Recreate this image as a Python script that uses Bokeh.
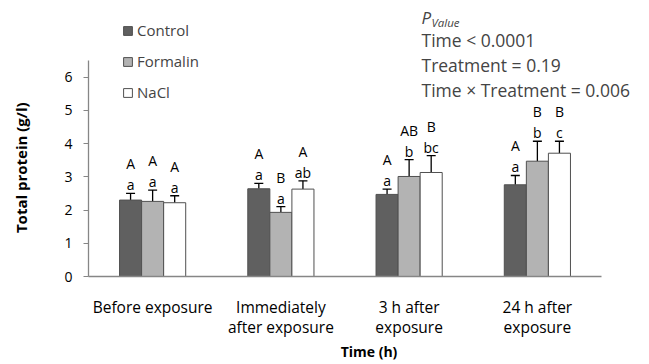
from bokeh.plotting import figure
from bokeh.models import (ColumnDataSource, Range1d, Whisker, TeeHead, FixedTicker,
                          Legend, LegendItem, Label)
from bokeh.core.properties import value
from bokeh.embed import file_html
from bokeh.resources import INLINE

# ---- data ----
categories = ["Before exposure", "Immediately\nafter exposure", "3 h after\nexposure", "24 h after\nexposure"]
series_names = ["Control", "Formalin", "NaCl"]
control = [2.30, 2.64, 2.47, 2.76]
control_err = [0.20, 0.16, 0.16, 0.28]
formalin = [2.26, 1.93, 3.01, 3.47]
formalin_err = [0.34, 0.17, 0.51, 0.60]
nacl = [2.22, 2.63, 3.13, 3.71]
nacl_err = [0.21, 0.25, 0.51, 0.36]
control_lower = ["a", "a", "a", "a"]
control_upper = ["A", "A", "A", "A"]
formalin_lower = ["a", "a", "b", "b"]
formalin_upper = ["A", "B", "AB", "B"]
nacl_lower = ["a", "ab", "bc", "c"]
nacl_upper = ["A", "A", "B", "B"]
y_ticks = [0, 1, 2, 3, 4, 5, 6]
y_title = "Total protein (g/l)"
x_title = "Time (h)"
pvalue_lines = ["Time < 0.0001", "Treatment = 0.19", "Time \u00d7 Treatment = 0.006"]

FONT = "Open Sans"
W, H = 649, 364
ML, MB = 88, 88
AX_W = 513          # pixel width of the category axis
AX_H = 216          # pixel height of the 0..6.5 value axis
Y_AXIS_TOP = 6.5
frame_w = W - ML
frame_h = H - MB
n_cat = len(categories)
x_end = n_cat * frame_w / AX_W
y_end = Y_AXIS_TOP * frame_h / AX_H
ppu = AX_H / Y_AXIS_TOP

p = figure(width=W, height=H, x_range=Range1d(0, x_end), y_range=Range1d(0, y_end),
           output_backend="svg", toolbar_location=None,
           min_border_left=ML, min_border_right=0, min_border_top=0, min_border_bottom=MB)
p.outline_line_color = None
p.grid.grid_line_color = None
p.background_fill_color = "white"

centers = [i + 0.5 for i in range(n_cat)]
bw = 0.172
series = [
    (control, control_err, control_lower, control_upper, "#606060", -bw),
    (formalin, formalin_err, formalin_lower, formalin_upper, "#b3b3b3", 0.0),
    (nacl, nacl_err, nacl_lower, nacl_upper, "#ffffff", bw),
]
renderers = []
for vals, errs, low, up, color, off in series:
    tops = [v + e for v, e in zip(vals, errs)]
    src = ColumnDataSource(dict(x=[c + off for c in centers], val=vals, top=tops,
                                ylow=[t + 8.5 / ppu for t in tops],
                                yup=[t + 29.5 / ppu for t in tops],
                                low=low, up=up))
    r = p.vbar(x="x", top="val", width=bw, source=src,
               fill_color=color, line_color="#505050", line_width=1)
    renderers.append(r)
    w = Whisker(base="x", lower="val", upper="top", source=src,
                line_color="black", line_width=1.3,
                upper_head=TeeHead(size=9, line_color="black", line_width=1.3),
                lower_head=None)
    p.add_layout(w)
    for col, yc in (("low", "ylow"), ("up", "yup")):
        p.text(x="x", y=yc, text=col, source=src,
               text_font=value(FONT), text_font_size="14px", text_align="center",
               text_baseline="alphabetic", text_color="black")

# axes
axis_col = "#868686"
p.yaxis.ticker = FixedTicker(ticks=y_ticks)
p.yaxis.bounds = (0, Y_AXIS_TOP)
p.yaxis.axis_line_color = axis_col
p.yaxis.axis_line_width = 1.3
p.yaxis.major_tick_line_color = axis_col
p.yaxis.major_tick_in = 0
p.yaxis.major_tick_out = 5
p.yaxis.minor_tick_line_color = None
p.yaxis.major_label_text_font = FONT
p.yaxis.major_label_text_font_size = "14px"
p.yaxis.major_label_text_color = "black"
p.yaxis.major_label_standoff = 11
# the title is centred on the whole frame; trailing no-break spaces move the
# visible words down so that they are centred on the drawn 0..6.5 axis
p.yaxis.axis_label = y_title + "\u00a0" * 15
p.yaxis.axis_label_text_font = FONT
p.yaxis.axis_label_text_font_style = "bold"
p.yaxis.axis_label_text_font_size = "15px"
p.yaxis.axis_label_text_color = "black"
p.yaxis.axis_label_standoff = 30

p.xaxis.ticker = FixedTicker(ticks=centers)
p.xaxis.major_label_overrides = {c: lab for c, lab in zip(centers, categories)}
p.xaxis.bounds = (0, n_cat)
p.xaxis.axis_line_color = axis_col
p.xaxis.axis_line_width = 1.3
p.xaxis.major_tick_line_color = None
p.xaxis.minor_tick_line_color = None
p.xaxis.major_label_text_font = FONT
p.xaxis.major_label_text_font_size = "15.5px"
p.xaxis.major_label_text_color = "black"
p.xaxis.major_label_text_line_height = 0.92
p.xaxis.major_label_standoff = 13
p.xaxis.axis_label = x_title
p.xaxis.axis_label_text_font = FONT
p.xaxis.axis_label_text_font_style = "bold"
p.xaxis.axis_label_text_font_size = "14px"
p.xaxis.axis_label_text_color = "black"
p.xaxis.axis_label_standoff = 1

# legend (location = bottom-left corner, pixels from the frame's bottom-left)
legend = Legend(items=[LegendItem(label=n, renderers=[r]) for n, r in zip(series_names, renderers)],
                location=(34, 174), glyph_width=11, glyph_height=11, label_standoff=4,
                label_text_font=FONT, label_text_font_size="15px", label_height=20,
                spacing=11, padding=0, margin=0, border_line_color=None,
                background_fill_alpha=0)
p.add_layout(legend)

# P value block (screen units from the frame's bottom-left)
px0 = 333
p.add_layout(Label(x=px0, y=259, x_units="screen", y_units="screen", text="P",
                   text_font=FONT, text_font_style="italic", text_font_size="17px",
                   text_baseline="middle"))
p.add_layout(Label(x=px0 + 10, y=254, x_units="screen", y_units="screen", text="Value",
                   text_font=FONT, text_font_style="italic", text_font_size="11.5px",
                   text_baseline="middle"))
for i, line in enumerate(pvalue_lines):
    p.add_layout(Label(x=px0, y=237 - 25 * i, x_units="screen", y_units="screen", text=line,
                       text_font=FONT, text_font_size="17.5px", text_baseline="middle"))

open("out.html", "w").write(file_html(p, INLINE))
